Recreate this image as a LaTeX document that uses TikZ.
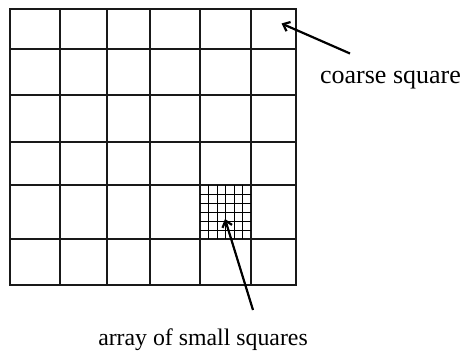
\documentclass[tikz,border=0pt]{standalone}
\usepackage{fontspec}
\setmainfont{Liberation Serif}
\usetikzlibrary{arrows.meta}
\begin{document}
\begin{tikzpicture}[x=1pt,y=-1pt,
  gridline/.style={line width=1.4pt, black!90, line cap=rect},
  fineline/.style={line width=1pt, black},
  pointer/.style={line width=2.2pt, black, -{Straight Barb[length=6pt,width=10pt]}},
  label/.style={inner sep=0pt, anchor=base}]
\useasboundingbox (0,0) rectangle (464,353);
% coarse grid
\foreach \x in {10,60,107,150,200,251,296} \draw[gridline] (\x,9) -- (\x,285);
\foreach \y in {9,49,95,142,185,239,285} \draw[gridline] (10,\y) -- (296,\y);
% fine grid inside one coarse square
\foreach \i in {1,...,5} {
  \draw[fineline] ({200+\i*51/6},185) -- ({200+\i*51/6},239);
  \draw[fineline] (200,{185+\i*9}) -- (251,{185+\i*9});
}
% labels
\node[label, font=\fontsize{26}{30}\selectfont] (coarse) at (390.5,84) {coarse square};
\node[label, font=\fontsize{23.8}{28}\selectfont] (small) at (203,345.5) {array of small squares};
% pointers
\coordinate (coarsetail) at (350,53.5);
\coordinate (coarsetip) at (281.5,23.5);
\coordinate (smalltail) at (253,310);
\coordinate (smalltip) at (225,219);
\draw[pointer] (coarsetail) -- (coarsetip);
\draw[pointer] (smalltail) -- (smalltip);
\end{tikzpicture}
\end{document}
